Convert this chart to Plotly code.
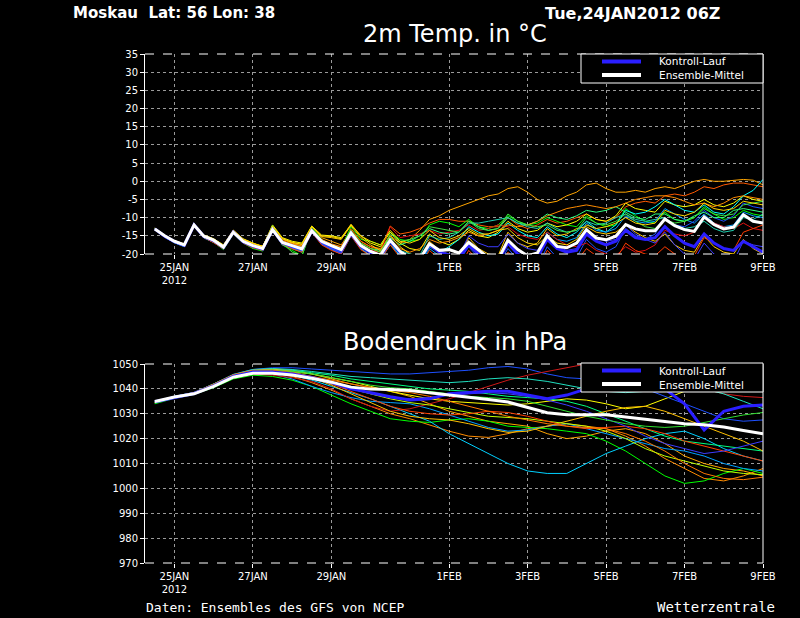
import pandas as pd
import plotly.graph_objects as go

# ---------------- data ----------------
times6 = pd.date_range("2012-01-24 12:00", periods=63, freq="6h")
times12 = pd.date_range("2012-01-24 12:00", periods=32, freq="12h")

tick_dates = ["2012-01-25", "2012-01-27", "2012-01-29", "2012-02-01",
              "2012-02-03", "2012-02-05", "2012-02-07", "2012-02-09"]
tick_labels = ["25JAN<br>2012", "27JAN", "29JAN", "1FEB", "3FEB", "5FEB", "7FEB", "9FEB"]

temp_ticks = [-20, -15, -10, -5, 0, 5, 10, 15, 20, 25, 30, 35]
pres_ticks = [970, 980, 990, 1000, 1010, 1020, 1030, 1040, 1050]

legend_names = ["Kontroll-Lauf", "Ensemble-Mittel"]

# 2m temperature (6-hourly)
temp_mean = [-13.1,-15.0,-16.5,-17.5, -12.0,-15.1,-16.2,-18.1, -14.0,-16.5,-17.7,-18.5,
             -13.3,-16.8,-17.7,-18.6, -13.6,-16.5,-17.7,-18.8, -14.2,-17.7,-19.3,-20.3,
             -16.2,-19.3,-21.0,-21.5, -17.2,-19.0,-18.8,-19.7, -16.8,-18.8,-21.0,-21.5,
             -16.2,-18.8,-20.5,-19.7, -15.0,-17.9,-18.3,-17.0, -13.3,-15.6,-16.1,-15.1,
             -11.9,-13.1,-13.6,-13.6, -10.4,-12.2,-13.3,-13.8, -9.8,-11.9,-13.1,-12.6,
             -9.2,-11.0,-11.5]
temp_ctrl = [-13.1,-15.1,-16.6,-17.6, -12.0,-15.2,-16.3,-18.2, -14.0,-16.6,-17.8,-18.6,
             -13.3,-16.9,-17.8,-18.7, -13.6,-16.6,-17.9,-19.0, -14.3,-17.9,-19.5,-20.5,
             -16.5,-19.5,-21.0,-21.5, -17.5,-19.5,-20.5,-21.0, -17.5,-20.0,-21.5,-22.0,
             -17.0,-20.0,-21.5,-21.0, -16.0,-18.5,-19.5,-19.0, -14.5,-16.5,-17.5,-16.5,
             -13.5,-15.5,-16.0,-15.5, -12.5,-15.0,-17.0,-18.0, -14.5,-17.0,-18.5,-19.0,
             -16.5,-18.0,-19.5]

temp_m01 = [-13.0,-15.2,-16.7,-17.6, -12.2,-15.0,-16.0,-18.0, -13.8,-16.2,-17.2,-17.8,
            -12.5,-16.0,-17.0,-17.8, -13.0,-15.5,-16.5,-17.5, -13.5,-16.5,-18.0,-18.5,
            -15.0,-17.0,-16.0,-13.5, -10.5,-9.5,-8.0,-7.0, -6.0,-5.0,-4.0,-3.5,
            -2.0,-1.5,-3.0,-5.0, -6.0,-5.5,-4.0,-3.0, -1.0,-0.5,-2.0,-3.0,
            -3.0,-2.5,-3.0,-2.0, -1.5,-2.0,-1.0,0.0, 0.5,0.0,0.0,0.2, 0.5,0.3,-1.0]
temp_m02 = [-13.2,-15.1,-16.4,-17.3, -11.8,-15.3,-16.5,-18.3, -13.5,-16.0,-17.5,-18.2,
            -12.8,-16.5,-17.5,-18.0, -13.0,-16.0,-17.5,-18.0, -13.0,-16.5,-18.0,-19.0,
            -12.3,-14.5,-14.0,-13.0, -11.5,-10.5,-10.5,-11.0, -11.0,-12.0,-12.5,-12.5,
            -10.0,-12.0,-13.0,-12.0, -10.5,-11.5,-11.0,-10.0, -9.0,-10.5,-11.0,-10.0,
            -7.0,-6.0,-5.5,-6.0, -4.0,-3.5,-4.0,-3.0, -1.5,-2.0,-1.0,-0.5, -0.5,-1.0,-1.5]
temp_m03 = [-13.3,-15.3,-16.8,-17.8, -12.0,-15.5,-16.8,-18.8, -14.5,-17.0,-18.5,-19.2,
            -12.3,-17.5,-19.0,-20.5, -12.5,-16.0,-17.5,-18.5, -12.5,-16.0,-16.5,-17.5,
            -14.0,-16.0,-16.5,-16.0, -12.0,-11.0,-11.5,-12.5, -10.5,-12.5,-13.0,-12.0,
            -9.5,-11.0,-12.0,-11.5, -10.0,-11.0,-12.0,-12.5, -9.5,-11.5,-12.5,-12.0,
            -7.5,-9.5,-11.0,-11.5, -8.5,-10.5,-11.0,-10.0, -7.0,-9.0,-10.5,-10.0, -8.0,-9.0,-9.5]
temp_m04 = [-13.0,-14.9,-16.3,-17.2, -12.3,-14.8,-15.8,-17.5, -13.5,-15.8,-17.0,-18.0,
            -12.0,-15.5,-16.5,-17.0, -12.3,-14.8,-15.0,-15.5, -12.0,-15.0,-17.0,-18.0,
            -14.0,-17.0,-18.5,-19.0, -14.5,-16.5,-17.5,-16.0, -13.5,-15.0,-15.5,-14.0,
            -11.0,-13.0,-14.0,-13.5, -11.5,-12.5,-12.0,-11.0, -9.0,-10.5,-11.0,-9.5,
            -6.0,-7.5,-8.0,-8.5, -5.5,-6.5,-7.0,-6.5, -5.0,-6.5,-7.0,-6.0, -4.0,-5.0,-5.5]
temp_m05 = [-13.1,-15.3,-16.9,-17.9, -12.1,-15.6,-16.8,-18.5, -14.3,-16.9,-18.2,-19.0,
            -13.5,-17.5,-18.5,-19.5, -13.5,-17.0,-18.5,-19.5, -14.5,-18.5,-20.5,-21.5,
            -17.0,-20.5,-22.0,-22.5, -18.0,-19.5,-18.0,-16.0, -12.5,-14.0,-15.0,-14.5,
            -11.5,-13.5,-15.0,-15.5, -12.5,-14.5,-15.5,-14.0, -11.0,-13.0,-14.0,-12.0,
            -8.0,-9.0,-8.5,-7.0, -5.0,-6.5,-8.0,-8.5, -6.5,-8.5,-9.0,-7.0, -4.0,-2.5,0.5]
temp_m06 = [-13.2,-15.4,-16.9,-18.0, -12.2,-15.4,-16.7,-18.4, -14.2,-16.8,-18.0,-18.8,
            -13.7,-17.2,-18.3,-19.2, -14.0,-17.3,-18.8,-20.0, -15.0,-18.5,-20.5,-21.5,
            -17.5,-20.5,-22.5,-23.0, -18.5,-20.5,-21.5,-22.0, -17.5,-20.0,-21.5,-22.0,
            -16.5,-19.0,-20.5,-20.0, -14.0,-16.0,-16.5,-15.5, -11.5,-13.5,-14.0,-13.0,
            -9.5,-11.0,-11.5,-11.0, -7.5,-9.0,-10.5,-11.5, -9.0,-11.5,-12.5,-12.0, -8.5,-9.5,-10.0]
temp_m07 = [-13.0,-15.1,-16.6,-17.6, -12.0,-15.2,-16.4,-18.2, -14.0,-16.6,-17.8,-18.7,
            -13.4,-17.0,-18.0,-19.0, -13.8,-17.0,-18.5,-19.5, -14.5,-18.0,-19.5,-20.5,
            -16.5,-19.5,-21.5,-22.0, -17.5,-19.5,-21.0,-22.0, -18.0,-21.0,-22.5,-23.0,
            -18.5,-21.5,-23.0,-23.5, -18.0,-21.0,-22.0,-21.0, -16.0,-18.5,-19.5,-18.0,
            -13.0,-15.0,-16.0,-14.5, -10.0,-12.0,-12.5,-11.0, -8.0,-10.0,-11.0,-9.5, -6.0,-7.0,-7.5]
temp_m08 = [-13.3,-15.2,-16.6,-17.5, -11.9,-15.1,-16.3,-18.0, -13.7,-16.4,-17.6,-18.5,
            -12.6,-16.8,-17.8,-18.6, -13.2,-16.4,-17.8,-18.9, -14.0,-17.5,-19.0,-19.5,
            -12.5,-15.5,-15.0,-14.5, -13.5,-14.5,-14.0,-13.5, -12.0,-13.5,-13.0,-12.0,
            -12.5,-14.5,-15.5,-16.0, -14.0,-16.0,-17.5,-18.0, -17.0,-19.0,-20.0,-20.5,
            -18.0,-19.5,-19.0,-17.5, -13.5,-14.5,-15.0,-14.0, -10.0,-11.5,-12.5,-13.0, -11.5,-13.0,-13.5]
temp_m09 = [-13.1,-15.0,-16.4,-17.4, -12.0,-15.0,-16.1,-18.0, -14.1,-16.5,-17.6,-18.4,
            -13.0,-16.5,-17.5,-18.2, -13.4,-16.2,-17.5,-18.5, -13.8,-17.0,-18.5,-19.0,
            -15.5,-17.5,-16.5,-15.0, -13.0,-14.0,-14.5,-14.0, -11.0,-12.5,-13.5,-13.0,
            -10.0,-11.5,-12.0,-11.0, -9.0,-10.0,-10.5,-9.5, -8.0,-8.5,-8.0,-7.0,
            -8.5,-10.0,-10.5,-9.0, -9.0,-10.5,-11.0,-9.5, -8.5,-10.0,-10.0,-8.0, -7.5,-8.0,-8.5]
temp_m10 = [-13.0,-15.0,-16.5,-17.5, -12.1,-15.1,-16.2,-17.9, -13.9,-16.3,-17.4,-18.2,
            -12.9,-16.3,-17.2,-17.8, -13.3,-16.0,-17.2,-18.0, -14.0,-17.0,-18.5,-19.5,
            -16.0,-18.5,-19.5,-18.5, -16.0,-17.0,-16.5,-15.5, -14.0,-15.0,-14.5,-13.5,
            -12.0,-12.5,-12.0,-11.0, -9.5,-8.5,-7.5,-7.0, -6.5,-7.0,-7.5,-7.0,
            -6.0,-5.0,-4.5,-4.0, -4.0,-4.5,-5.5,-6.5, -6.0,-7.0,-6.0,-4.5, -4.0,-4.5,-5.0]
temp_m11 = [-13.2,-15.1,-16.5,-17.4, -12.0,-14.9,-15.9,-17.7, -13.6,-16.0,-17.1,-18.0,
            -12.4,-15.8,-16.8,-17.4, -12.6,-15.2,-15.5,-16.0, -12.2,-15.5,-17.5,-19.0,
            -15.0,-18.0,-20.0,-21.0, -16.5,-19.0,-20.5,-21.0, -15.5,-18.5,-20.0,-20.5,
            -14.0,-17.0,-18.0,-17.0, -13.0,-15.0,-14.5,-13.0, -12.5,-14.0,-14.5,-14.0,
            -12.0,-14.0,-15.5,-16.5, -14.5,-17.5,-19.0,-19.5, -15.0,-18.0,-19.5,-20.0, -16.0,-18.5,-20.0]
temp_m12 = [-13.1,-15.2,-16.7,-17.7, -12.1,-15.3,-16.6,-18.4, -14.2,-16.7,-17.9,-18.7,
            -13.2,-16.9,-18.0,-18.8, -13.6,-16.8,-18.2,-19.2, -14.3,-17.8,-19.5,-20.5,
            -16.0,-19.0,-20.0,-20.5, -15.0,-16.0,-15.5,-14.0, -11.5,-11.5,-11.0,-10.5,
            -10.0,-11.5,-12.5,-13.0, -11.5,-13.0,-14.0,-13.5, -11.0,-12.0,-11.5,-10.0,
            -9.0,-10.5,-11.0,-10.5, -10.0,-12.0,-13.0,-12.5, -11.0,-13.0,-14.0,-13.5, -10.0,-10.5,-9.0]
temp_m13 = [-13.2,-15.3,-16.8,-17.8, -12.2,-15.5,-16.9,-18.6, -14.4,-17.0,-18.3,-19.0,
            -13.6,-17.4,-18.6,-19.5, -14.0,-17.5,-19.0,-20.0, -15.0,-18.8,-20.5,-21.5,
            -17.5,-21.0,-22.5,-23.5, -19.0,-21.5,-23.0,-24.0, -19.0,-22.0,-23.5,-24.0,
            -19.5,-22.5,-24.0,-24.5, -19.0,-21.5,-22.5,-22.0, -18.5,-20.5,-21.5,-21.5,
            -17.0,-19.0,-20.0,-20.5, -18.0,-20.0,-21.0,-20.5, -15.5,-17.0,-18.5,-19.0, -14.0,-13.0,-12.0]
temp_m14 = [-13.0,-15.0,-16.6,-17.7, -11.9,-15.2,-16.5,-18.3, -14.1,-16.7,-17.9,-18.8,
            -13.4,-17.0,-18.2,-19.1, -13.9,-17.2,-18.6,-19.8, -14.6,-18.2,-20.0,-21.0,
            -16.8,-20.0,-21.5,-22.0, -17.0,-19.0,-20.0,-20.5, -15.0,-17.0,-18.0,-18.0,
            -14.5,-17.0,-18.5,-19.0, -15.5,-18.0,-19.0,-18.5, -13.5,-15.5,-16.5,-16.0,
            -12.0,-14.5,-16.0,-17.0, -14.0,-17.5,-20.0,-21.5, -17.0,-20.0,-21.5,-22.0, -16.5,-17.5,-18.0]
temp_m15 = [-13.1,-15.1,-16.6,-17.6, -12.0,-15.0,-16.2,-18.1, -13.9,-16.4,-17.6,-18.4,
            -12.2,-17.0,-19.5,-20.5, -13.0,-16.5,-18.0,-19.0, -13.5,-17.0,-18.5,-19.5,
            -14.5,-16.5,-16.0,-15.0, -12.5,-13.0,-13.5,-14.0, -11.0,-13.0,-13.5,-13.0,
            -9.0,-11.0,-12.0,-12.5, -12.0,-13.5,-14.0,-13.5, -10.0,-11.5,-12.0,-11.0,
            -9.0,-11.0,-12.5,-13.0, -10.5,-11.5,-11.0,-10.0, -7.5,-9.0,-9.5,-9.0, -6.5,-6.0,-5.5]
temp_m16 = [-12.9,-14.9,-16.4,-17.3, -12.3,-14.9,-15.9,-17.6, -13.4,-15.9,-17.0,-17.9,
            -12.3,-15.7,-16.8,-17.3, -12.4,-15.0,-15.2,-15.8, -11.8,-15.0,-16.5,-17.5,
            -13.5,-16.5,-17.0,-16.0, -13.5,-15.5,-16.0,-15.0, -13.0,-14.5,-14.5,-13.5,
            -13.0,-15.5,-17.0,-17.5, -15.0,-17.0,-17.5,-16.0, -12.0,-13.0,-12.5,-11.5,
            -10.0,-11.5,-12.0,-11.5, -8.0,-9.0,-9.5,-8.5, -6.0,-7.5,-8.0,-7.5, -5.5,-6.0,-6.5]

temp_members = [temp_m01, temp_m02, temp_m03, temp_m04, temp_m05, temp_m06, temp_m07, temp_m08,
                temp_m09, temp_m10, temp_m11, temp_m12, temp_m13, temp_m14, temp_m15, temp_m16]

# surface pressure (12-hourly)
pres_mean = [1034.9,1036.7,1038.0,1041.0,1044.7,1046.3,1046.3,1045.6,1044.3,1042.7,1040.7,1039.9,
             1039.7,1039.3,1038.4,1037.6,1036.7,1035.7,1034.7,1032.7,1030.4,1029.6,1029.6,1029.6,
             1028.7,1027.7,1026.7,1026.0,1025.6,1024.7,1023.3,1022.0]
pres_ctrl = [1034.8,1036.6,1038.1,1041.2,1045.0,1046.8,1046.8,1046.0,1044.5,1042.5,1040.0,1038.5,
             1036.8,1035.5,1036.0,1038.0,1038.5,1039.0,1039.0,1037.5,1036.0,1037.5,1040.0,1041.5,
             1041.0,1040.5,1040.0,1034.0,1023.5,1031.0,1033.0,1033.5]

pres_m01 = [1034.5,1036.5,1038.5,1042.0,1045.5,1047.5,1048.0,1047.5,1046.0,1044.0,1042.0,1040.5,
            1039.0,1037.0,1034.0,1031.0,1029.0,1027.0,1026.0,1025.0,1022.0,1020.0,1021.0,1023.0,
            1024.0,1022.0,1018.0,1013.0,1010.0,1008.0,1007.0,1005.0]
pres_m02 = [1034.7,1036.8,1038.3,1041.5,1045.0,1046.8,1046.5,1045.0,1042.5,1039.5,1036.0,1033.0,
            1030.0,1028.0,1025.5,1023.0,1021.0,1020.5,1022.0,1024.0,1025.0,1026.0,1025.0,1024.0,
            1021.0,1017.0,1012.0,1008.0,1004.0,1003.0,1005.0,1008.0]
pres_m03 = [1034.0,1036.2,1037.8,1040.5,1044.0,1045.5,1045.0,1043.5,1041.0,1037.5,1034.0,1031.0,
            1028.0,1027.0,1026.5,1027.5,1028.0,1027.0,1025.0,1024.5,1024.0,1023.0,1022.0,1019.0,
            1015.0,1010.0,1005.0,1002.0,1003.0,1006.0,1008.0,1006.0]
pres_m04 = [1034.8,1036.9,1038.4,1041.8,1045.5,1047.0,1046.8,1045.5,1043.5,1041.0,1038.5,1036.0,
            1033.0,1030.0,1027.0,1022.0,1018.0,1014.0,1010.0,1007.0,1006.0,1006.0,1010.0,1014.0,
            1017.0,1020.0,1022.0,1023.0,1020.0,1016.0,1013.0,1011.0]
pres_m05 = [1034.6,1036.6,1038.2,1041.5,1045.5,1047.5,1047.8,1047.0,1046.0,1044.5,1043.0,1041.0,
            1039.0,1037.5,1036.0,1035.0,1034.5,1034.0,1033.5,1034.0,1035.0,1036.0,1035.5,1034.0,
            1032.0,1033.0,1036.0,1039.0,1041.0,1043.0,1044.0,1043.5]
pres_m06 = [1034.9,1037.0,1038.5,1041.5,1045.0,1046.5,1046.0,1044.0,1041.0,1038.5,1036.5,1035.0,
            1034.5,1034.0,1032.0,1029.5,1027.0,1024.5,1023.0,1023.5,1025.0,1026.0,1024.0,1022.0,
            1020.0,1018.0,1016.0,1015.0,1013.0,1010.0,1008.0,1007.0]
pres_m07 = [1034.7,1036.8,1038.3,1041.8,1045.8,1047.8,1048.5,1048.5,1048.0,1047.5,1047.0,1046.5,
            1046.0,1046.0,1046.5,1047.0,1047.5,1048.5,1049.0,1048.0,1046.0,1044.5,1044.0,1044.5,
            1043.0,1040.0,1037.0,1034.0,1031.0,1028.0,1027.0,1027.5]
pres_m08 = [1034.5,1036.5,1038.0,1041.0,1044.5,1046.0,1045.5,1044.5,1043.0,1040.0,1036.0,1033.0,
            1031.0,1032.0,1034.0,1036.0,1038.5,1041.0,1043.5,1045.5,1047.0,1048.5,1050.0,1051.0,
            1050.5,1049.0,1046.0,1043.0,1040.0,1038.0,1037.0,1036.5]
pres_m09 = [1034.3,1036.4,1038.0,1041.3,1045.2,1047.3,1047.8,1047.5,1046.5,1045.5,1044.0,1043.0,
            1042.0,1041.0,1040.0,1039.5,1039.0,1038.0,1037.0,1036.5,1036.0,1035.0,1033.0,1030.0,
            1027.0,1024.0,1021.0,1019.0,1018.0,1017.0,1016.0,1015.0]
pres_m10 = [1034.6,1036.7,1038.4,1041.6,1045.5,1047.5,1048.0,1047.0,1044.5,1041.5,1038.0,1034.5,
            1031.0,1029.0,1028.0,1027.5,1026.0,1024.0,1022.5,1023.0,1025.0,1027.0,1029.0,1031.0,
            1032.5,1033.0,1031.0,1028.0,1025.0,1022.0,1019.0,1015.0]
pres_m11 = [1034.8,1036.9,1038.6,1042.0,1045.8,1047.8,1048.2,1047.8,1047.0,1046.0,1045.0,1044.5,
            1044.0,1043.5,1043.0,1042.5,1043.0,1044.0,1044.5,1044.0,1043.0,1041.5,1040.0,1039.0,
            1038.5,1039.0,1040.0,1041.0,1040.0,1038.0,1035.0,1032.0]
pres_m12 = [1034.4,1036.5,1038.1,1041.2,1044.8,1046.5,1046.5,1045.5,1044.0,1042.0,1040.0,1038.0,
            1036.0,1034.5,1033.5,1032.0,1030.5,1029.0,1028.5,1028.0,1027.0,1026.0,1025.0,1023.0,
            1020.0,1016.0,1013.0,1011.0,1009.0,1007.0,1006.0,1005.5]
pres_m13 = [1034.6,1036.6,1038.2,1041.4,1045.0,1046.8,1047.0,1046.0,1044.5,1042.0,1039.0,1036.0,
            1033.0,1031.0,1030.0,1029.5,1030.0,1031.0,1030.5,1029.0,1027.0,1025.0,1024.0,1024.5,
            1025.0,1024.0,1022.0,1019.0,1017.0,1015.0,1013.0,1011.0]
pres_m14 = [1034.9,1037.0,1038.6,1041.8,1045.5,1047.2,1047.3,1046.5,1045.0,1043.0,1040.5,1038.0,
            1036.5,1036.0,1036.5,1037.5,1038.0,1038.5,1038.0,1037.0,1035.5,1033.5,1031.0,1028.0,
            1025.0,1021.0,1018.0,1016.0,1014.0,1015.0,1017.0,1019.0]
pres_m15 = [1034.5,1036.6,1038.3,1041.6,1045.3,1047.3,1047.5,1047.0,1046.0,1044.5,1043.0,1041.5,
            1040.5,1040.0,1039.0,1038.0,1037.0,1036.5,1036.0,1035.0,1033.0,1031.0,1029.0,1027.5,
            1026.0,1025.0,1024.5,1025.0,1026.5,1028.0,1029.5,1030.5]
pres_m16 = [1034.7,1036.8,1038.5,1041.9,1045.7,1047.5,1047.5,1046.5,1045.0,1043.5,1042.0,1040.5,
            1039.5,1038.5,1037.0,1035.0,1033.0,1031.0,1029.0,1027.5,1026.0,1025.0,1024.5,1024.0,
            1022.0,1019.0,1015.0,1010.0,1006.0,1004.0,1003.5,1004.5]

pres_members = [pres_m01, pres_m02, pres_m03, pres_m04, pres_m05, pres_m06, pres_m07, pres_m08,
                pres_m09, pres_m10, pres_m11, pres_m12, pres_m13, pres_m14, pres_m15, pres_m16]

member_colors = ["#ffa500", "#ff5a00", "#00ff00", "#ffff00", "#00ffff", "#00a0ff", "#1e50ff", "#e01010",
                 "#30ff80", "#ff8c00", "#ffc800", "#20d0b0", "#ff3c00", "#3c3cff", "#40e040", "#ffd700"]
pres_colors = ["#ffa500", "#ff8c00", "#00ff00", "#00d0ff", "#ffff00", "#00a0ff", "#1e50ff", "#d01818",
               "#00ff80", "#ffc000", "#20e0c0", "#c0ff00", "#ff4000", "#3c3cff", "#30e030", "#ff7800"]
ctrl_color = "#2a1eff"
mean_color = "#ffffff"

for s in temp_members + [temp_mean, temp_ctrl]:
    assert len(s) == len(times6)
for s in pres_members + [pres_mean, pres_ctrl]:
    assert len(s) == len(times12)

# ---------------- figure ----------------
W, H = 800, 618
FONT = "DejaVu Sans"
MONO = "DejaVu Sans Mono"


def px(x, y):
    return x / W, 1 - y / H


fig = go.Figure()

for vals, col in zip(temp_members, member_colors):
    fig.add_trace(go.Scatter(x=times6, y=vals, mode="lines", line=dict(color=col, width=1),
                             showlegend=False, hoverinfo="skip", xaxis="x", yaxis="y"))
fig.add_trace(go.Scatter(x=times6, y=temp_ctrl, mode="lines", name=legend_names[0], showlegend=False,
                         line=dict(color=ctrl_color, width=3), xaxis="x", yaxis="y"))
fig.add_trace(go.Scatter(x=times6, y=temp_mean, mode="lines", name=legend_names[1], showlegend=False,
                         line=dict(color=mean_color, width=3), xaxis="x", yaxis="y"))

for vals, col in zip(pres_members, pres_colors):
    fig.add_trace(go.Scatter(x=times12, y=vals, mode="lines", line=dict(color=col, width=1),
                             showlegend=False, hoverinfo="skip", xaxis="x2", yaxis="y2"))
fig.add_trace(go.Scatter(x=times12, y=pres_ctrl, mode="lines", name=legend_names[0], showlegend=False,
                         line=dict(color=ctrl_color, width=3), xaxis="x2", yaxis="y2"))
fig.add_trace(go.Scatter(x=times12, y=pres_mean, mode="lines", name=legend_names[1], showlegend=False,
                         line=dict(color=mean_color, width=3), xaxis="x2", yaxis="y2"))

xl, yt1 = px(145, 54)
xr, yb1 = px(763, 254)
_, yt2 = px(145, 364)
_, yb2 = px(145, 563)
xdom = [xl, xr]
ydom1 = [yb1, yt1]
ydom2 = [yb2, yt2]

xcommon = dict(range=["2012-01-24 06:00", "2012-02-09 00:00"], domain=xdom, automargin=False,
               tickmode="array", tickvals=tick_dates, ticktext=tick_labels,
               showgrid=True, gridcolor="#9a9a9a", griddash="dot", gridwidth=1,
               ticks="outside", ticklen=4, tickcolor="white", showline=False, zeroline=False,
               tickfont=dict(family=FONT, size=10, color="white"))
ycommon = dict(showgrid=True, gridcolor="#9a9a9a", griddash="dot", gridwidth=1, automargin=False,
               ticks="outside", ticklen=4, tickcolor="white", showline=True, linecolor="white",
               linewidth=1, zeroline=False, tickfont=dict(family=FONT, size=10, color="white"))

fig.update_layout(
    width=W, height=H, margin=dict(l=0, r=0, t=0, b=0, pad=0, autoexpand=False),
    paper_bgcolor="black", plot_bgcolor="black", showlegend=False,
    xaxis=dict(anchor="y", **xcommon),
    xaxis2=dict(anchor="y2", **xcommon),
    yaxis=dict(anchor="x", domain=ydom1, range=[-20, 35], tickvals=temp_ticks,
               ticktext=[str(v) for v in temp_ticks], **ycommon),
    yaxis2=dict(anchor="x2", domain=ydom2, range=[970, 1050], tickvals=pres_ticks,
                ticktext=[str(v) for v in pres_ticks], **ycommon),
    font=dict(family=FONT, color="white"),
)

# frame lines (right solid, top/bottom dashed)
for xa, ya in (("x", "y"), ("x2", "y2")):
    fig.add_shape(type="line", xref=f"{xa} domain", yref=f"{ya} domain", x0=1, x1=1, y0=0, y1=1,
                  line=dict(color="white", width=1))
    for yy in (0, 1):
        fig.add_shape(type="line", xref=f"{xa} domain", yref=f"{ya} domain", x0=0, x1=1, y0=yy, y1=yy,
                      line=dict(color="white", width=1, dash="dash"))


def txt(text, x, y, size, xanchor="left", family=FONT, align="left"):
    xx, yy = px(x, y)
    fig.add_annotation(text=text, x=xx, y=yy, xref="paper", yref="paper",
                       xanchor=xanchor, yanchor="middle", showarrow=False, align=align,
                       borderpad=0, font=dict(family=family, size=size, color="white"))


# legend boxes (opaque, drawn over the lines like the original)
for top in (54, 363):
    x0, y0 = px(581, top)
    x1, y1 = px(763, top + 29)
    fig.add_shape(type="rect", xref="paper", yref="paper", x0=x0, x1=x1, y0=y0, y1=y1,
                  fillcolor="black", line=dict(color="white", width=1), layer="above")
    for k, col in enumerate([ctrl_color, mean_color]):
        yline = top + 7.5 + 13.5 * k
        a0, b0 = px(602, yline)
        a1, _ = px(641, yline)
        fig.add_shape(type="line", xref="paper", yref="paper", x0=a0, x1=a1, y0=b0, y1=b0,
                      line=dict(color=col, width=4), layer="above")
    txt("<br>".join(legend_names), 658, top + 14.5, 10.5)

txt("<b>Moskau  Lat: 56 Lon: 38</b>", 72, 13, 15)
txt("<b>Tue,24JAN2012 06Z</b>", 544, 13, 16)
txt("2m Temp. in °C", 455, 34, 24, "center")
txt("Bodendruck in hPa", 455, 342, 24, "center")
txt("Daten: Ensembles des GFS von NCEP", 145, 607, 13, family=MONO)
txt("Wetterzentrale", 776, 607, 14, "right", family=MONO)

fig.write_html("out.html", config={"displayModeBar": False},
               post_script=("document.documentElement.style.margin='0';"
                            "document.body.style.margin='0';"
                            "document.body.style.background='black';"
                            "document.documentElement.style.background='black';"))
